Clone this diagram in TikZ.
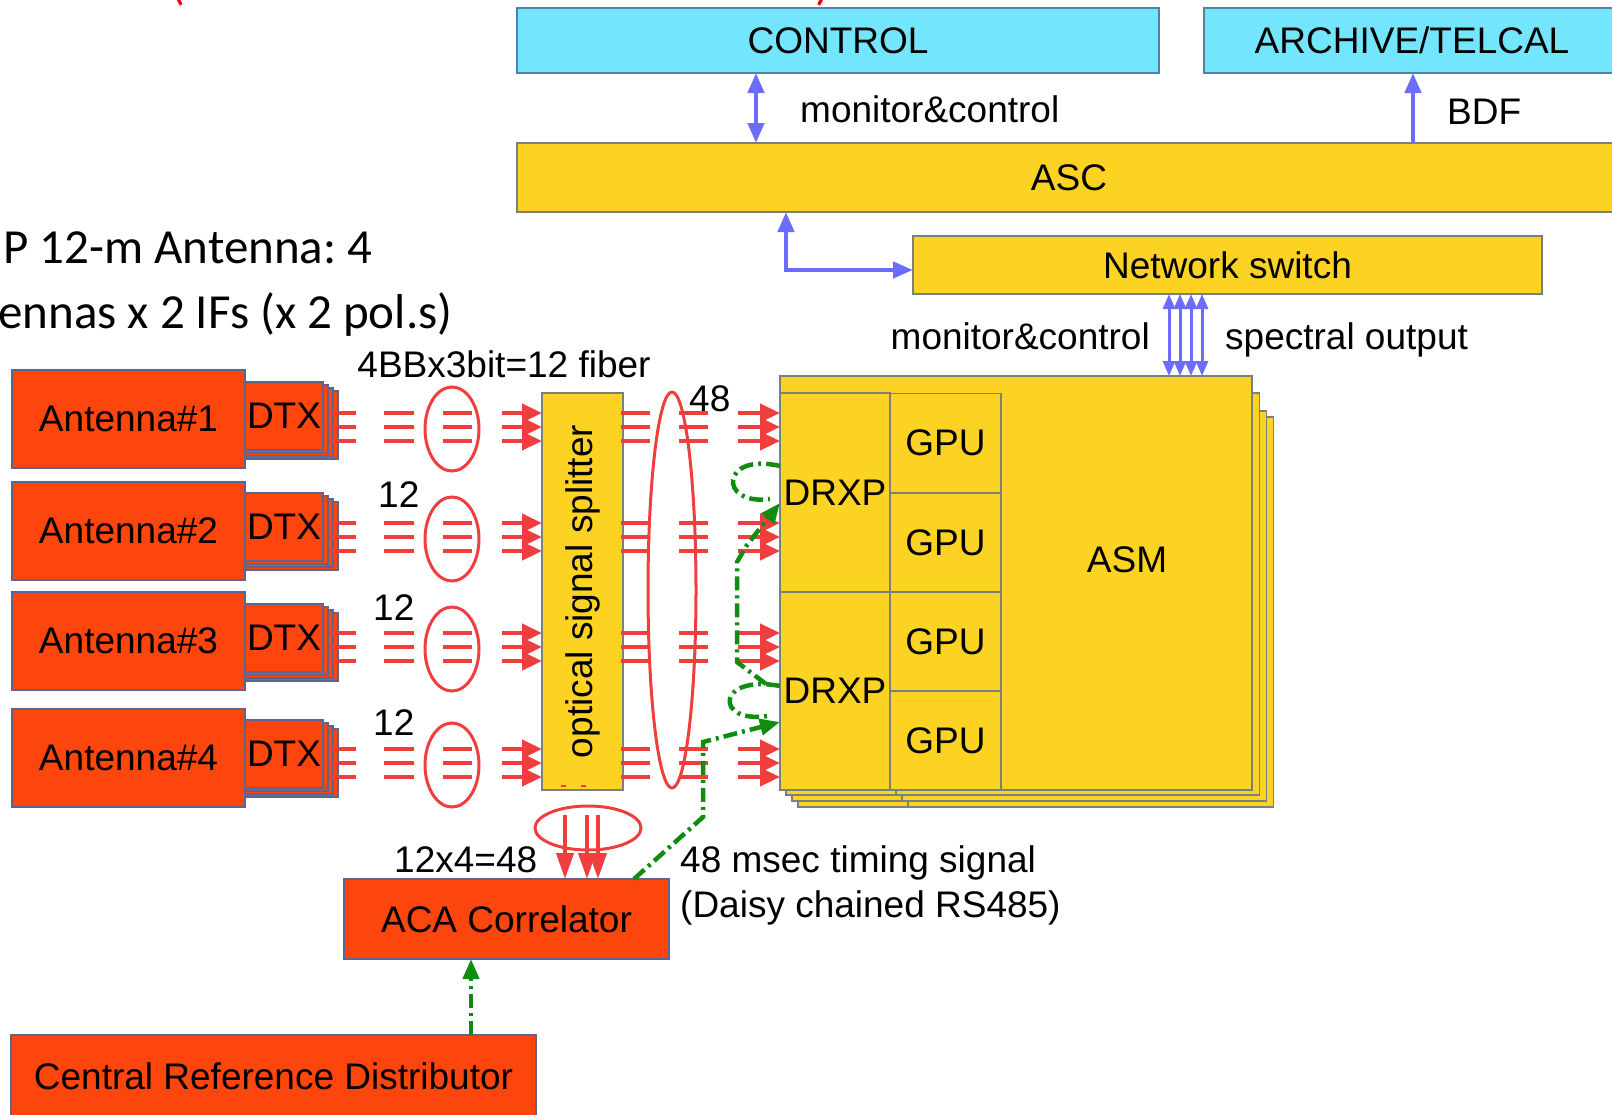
\documentclass[tikz,border=0pt]{standalone}
\usepackage{fontspec}
\setmainfont{Liberation Sans}
\newfontfamily\calib{Carlito}
\usepackage{xcolor}
\usetikzlibrary{arrows.meta,positioning,calc}

\definecolor{cyanbox}{RGB}{115,229,253}
\definecolor{cyanline}{RGB}{80,130,170}
\definecolor{ylw}{RGB}{252,211,35}
\definecolor{ylwline}{RGB}{120,130,125}
\definecolor{orng}{RGB}{252,70,14}
\definecolor{orngline}{RGB}{95,100,140}
\definecolor{fibred}{RGB}{240,62,62}
\definecolor{mcblue}{RGB}{108,108,255}
\definecolor{tgreen}{RGB}{16,140,16}

% three fibres of one bundle, with and without heads
\newcommand{\fibres}[3]{\foreach \dy in {-14,0,14}{\draw[fibre] (#1,#3+\dy) -- (#2,#3+\dy);}}
\newcommand{\fibrearrows}[3]{\foreach \dy in {-14,0,14}{\draw[fibre,fibtip] (#1,#3+\dy) -- (#2 |- 0,#3+\dy);}}

\begin{document}
\frenchspacing
\begin{tikzpicture}[x=1pt,y=-1pt,
  blk/.style={draw,line width=1.2pt,inner sep=0pt,outer sep=0pt,font=\fontsize{37}{42}\selectfont},
  cyanb/.style={blk,fill=cyanbox,draw=cyanline},
  ylwb/.style={blk,fill=ylw,draw=ylwline},
  redbox/.style={blk,fill=orng,draw=orngline},
  lbl/.style={inner sep=0pt,font=\fontsize{37}{42}\selectfont},
  fibre/.style={draw=fibred,line width=4.5pt},
  ring/.style={draw=fibred,line width=3pt},
  fibtip/.style={-{Triangle[length=20pt,width=18pt]}},
  mc/.style={draw=mcblue,line width=4.5pt},
  tipb/.style={-{Triangle[length=20pt,width=16pt]}},
  tipbb/.style={{Triangle[length=20pt,width=16pt]}-{Triangle[length=20pt,width=16pt]}},
  timing/.style={draw=tgreen,line width=4.5pt,dash pattern=on 14pt off 5pt on 3pt off 5pt},
  tipg/.style={-{Triangle[length=20pt,width=16pt]}}]
\useasboundingbox (0,0) rectangle (1612,1114);

% cut-off title
\node[anchor=south,inner sep=0pt,text=red,font=\calib\fontsize{49}{55}\selectfont] (cutl) at (178,6) {(};
\node[anchor=south,inner sep=0pt,text=red,font=\calib\fontsize{49}{55}\selectfont] (cutr) at (823,6) {)};
\node[anchor=base west,inner sep=0pt,font=\calib\fontsize{49}{55}\selectfont] (title1) at (3,263) {P 12-m Antenna: 4};
\node[anchor=base west,inner sep=0pt,font=\calib\fontsize{49}{55}\selectfont] (title2) at (-2,328) {ennas x 2 IFs (x 2 pol.s)};

% control side
\node[cyanb,minimum width=642,minimum height=65] (control) at (838,40.5) {CONTROL};
\node[cyanb,minimum width=416,minimum height=65] (archive) at (1412,40.5) {ARCHIVE/TELCAL};
\node[ylwb,minimum width=1104,minimum height=69] (asc) at (1069,177.5) {ASC};
\node[ylwb,minimum width=629,minimum height=58] (nsw) at (1227.5,265) {Network switch};

% correlator stack
\foreach \ox/\ty/\by in {18/417/807,12/411/801,6/393/795}{
  \draw[ylwb] (780+\ox,\ty) rectangle (1252+\ox*1.2,\by);
  \draw[ylwline,line width=1.2pt] (890+\ox,592) -- (890+\ox,\by);}
\node[ylwb,minimum width=472,minimum height=414] (asm) at (1016,583) {};
\node[lbl] (asmlbl) at (1127,560) {ASM};
\node[ylwb,minimum width=110,minimum height=199] (drxp1) at (835,492.5) {DRXP};
\node[ylwb,minimum width=110,minimum height=198] (drxp2) at (835,691) {DRXP};
\foreach \g/\gy in {1/443,2/542.5,3/641.5,4/740.5}
  \node[ylwb,minimum width=111,minimum height=99] (gpu\g) at (945.5,\gy) {GPU};

\node[ylwb,minimum width=81,minimum height=397] (split) at (582.5,591.5) {};
\node[lbl,rotate=90] (splitlbl) at (split.center) {optical signal splitter};

% antennas
\foreach \i/\ya/\yd in {1/419/416,2/531/527,3/641/638,4/758/754}{
  \foreach \k in {3,2,1}
    \draw[redbox] (245,\yd-34+3*\k) rectangle (323+5*\k,\yd+34+3*\k);
  \node[redbox,minimum width=78,minimum height=68] (dtx\i) at (284,\yd) {DTX};
  \node[redbox,minimum width=233,minimum height=98] (ant\i) at (128.5,\ya) {Antenna\#\i};}

\node[redbox,minimum width=325,minimum height=80] (aca) at (506.5,919) {ACA Correlator};
\node[redbox,minimum width=525,minimum height=82] (crd) at (273.5,1076) {Central Reference Distributor};

% fibres
\foreach \yc in {427,537,647,763}{
  \fibres{330}{356}{\yc}
  \fibres{384}{414}{\yc}
  \draw[ring] (452,\yc+2) ellipse [x radius=27,y radius=42];
  \fibres{443}{472}{\yc}
  \fibrearrows{502}{split.west}{\yc}
  \fibres{621}{650}{\yc}
  \fibres{679}{708}{\yc}
  \fibrearrows{738}{asm.west}{\yc}}
\draw[ring] (672,590) ellipse [x radius=24,y radius=198];
\draw[ring] (588,828) ellipse [x radius=53,y radius=22];
\foreach \ax in {565,587,598}
  \draw[fibre,line width=4pt,-{Triangle[length=26pt,width=17pt]}] (\ax,815) -- (aca.north -| \ax,0);
\draw[fibre,line width=2pt,dash pattern=on 5pt off 15pt] (561,786) -- (601,786);

% monitor and control, data
\draw[mc,tipbb] (control.south -| 756,0) -- (asc.north -| 756,0);
\draw[mc,tipb] (asc.north -| 1413,0) -- (archive.south -| 1413,0);
\draw[mc,tipbb] (asc.south -| 786,0) |- (nsw.west |- 0,270);
\foreach \bx in {1169,1180,1191,1202}
  \draw[draw=mcblue,line width=3pt,{Triangle[length=15pt,width=12pt]}-{Triangle[length=15pt,width=12pt]}] (nsw.south -| \bx,0) -- (asm.north -| \bx,0);

% timing signal
\draw[timing,tipg] ($(aca.north east)+(-35,0)$) -- (703,817) -- (703,742) -- (drxp2.west |- 0,722);
\draw[timing] (drxp2.west |- 0,686) .. controls (716,674) and (714,724) .. (768,716);
\draw[timing,tipg] (766,684) -- (737,662) -- (737,562) -- (747,545) -- (drxp1.west |- 0,503);
\draw[timing] (drxp1.west |- 0,466) .. controls (720,452) and (718,506) .. (770,499);
\draw[timing,tipg] (crd.north -| 471,0) -- (aca.south -| 471,0);

% labels
\node[lbl,anchor=base west] (mclbl) at (800,122) {monitor\&control};
\node[lbl,anchor=base west] (bdflbl) at (1447,124) {BDF};
\node[lbl,anchor=base east] (mclbl2) at (1150,349) {monitor\&control};
\node[lbl,anchor=base west] (speclbl) at (1225,349) {spectral output};
\node[lbl,anchor=base] (fiberlbl) at (504,377) {4BBx3bit=12 fiber};
\node[lbl,anchor=base west] (n48) at (689,411) {48};
\node[lbl,anchor=base west] (n12b) at (378,507) {12};
\node[lbl,anchor=base west] (n12c) at (373,620) {12};
\node[lbl,anchor=base west] (n12d) at (373,735) {12};
\node[lbl,anchor=base west] (sumlbl) at (394,872) {12x4=48};
\node[lbl,anchor=base west] (tim1) at (680,872) {48 msec timing signal};
\node[lbl,anchor=base west] (tim2) at (680,917) {(Daisy chained RS485)};
\end{tikzpicture}
\end{document}
